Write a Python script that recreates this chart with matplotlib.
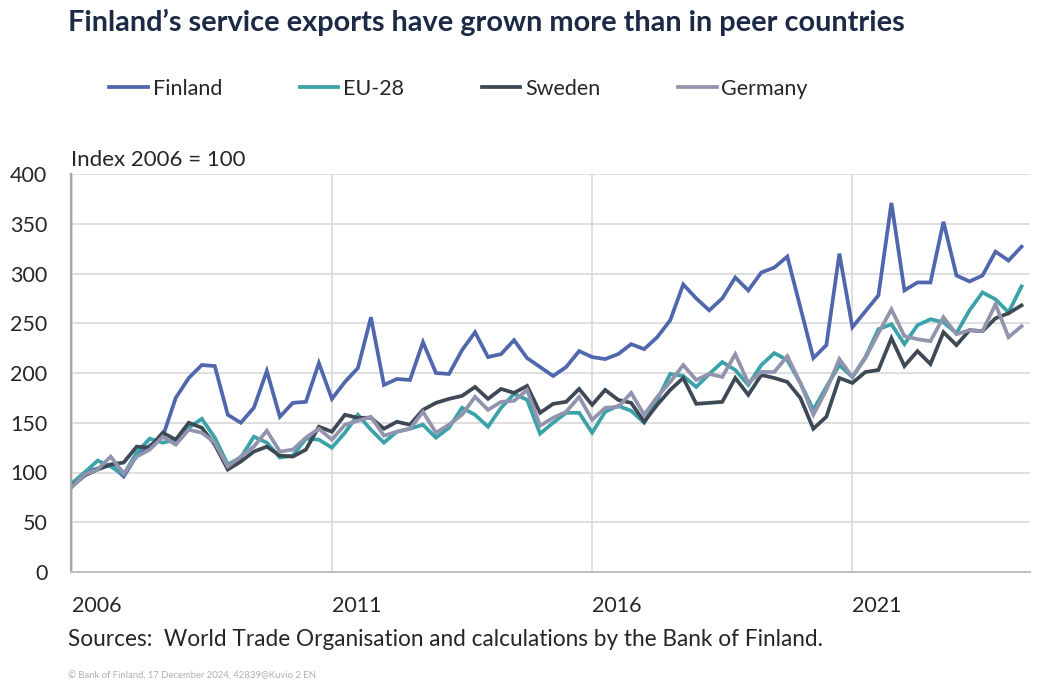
import numpy as np
import matplotlib.pyplot as plt
from matplotlib.lines import Line2D

# quarterly index 2006 = 100, 2006Q1 .. 2024Q2
finland = [88, 100, 104, 108, 96, 117, 127, 136, 175, 195, 208, 207, 158, 150, 165, 202,
           156, 170, 171, 210, 174, 191, 205, 256, 188, 194, 193, 231, 200, 199, 223, 241,
           216, 219, 233, 215, 206, 197, 206, 222, 216, 214, 219, 229, 224, 236, 253, 289,
           275, 263, 275, 296, 283, 301, 306, 317, 266, 215, 228, 320, 246, 262, 278, 371,
           283, 291, 291, 352, 298, 292, 298, 322, 313, 327]
eu28 = [89, 100, 112, 106, 98, 120, 134, 130, 133, 145, 154, 135, 108, 115, 136, 130,
        115, 117, 134, 133, 125, 140, 158, 143, 130, 141, 144, 148, 135, 145, 165, 158,
        146, 165, 179, 173, 139, 150, 160, 160, 140, 161, 167, 162, 150, 173, 199, 197,
        186, 199, 211, 203, 188, 208, 220, 213, 190, 163, 186, 208, 196, 216, 244, 249,
        229, 248, 254, 251, 240, 263, 281, 274, 261, 287]
sweden = [86, 97, 103, 108, 110, 126, 125, 140, 133, 150, 145, 128, 103, 111, 121, 126,
          117, 116, 123, 146, 141, 158, 155, 155, 144, 151, 148, 163, 170, 174, 177, 186,
          174, 184, 180, 187, 160, 169, 171, 184, 168, 183, 173, 170, 151, 168, 183, 195,
          169, 170, 171, 195, 178, 198, 195, 191, 175, 144, 156, 195, 190, 201, 203, 235,
          207, 222, 209, 241, 228, 243, 242, 255, 260, 268]
germany = [85, 98, 103, 116, 99, 116, 123, 136, 128, 143, 140, 130, 106, 116, 126, 142,
           121, 123, 135, 144, 133, 148, 152, 156, 137, 141, 144, 161, 140, 148, 158, 176,
           163, 171, 172, 183, 147, 155, 161, 176, 153, 165, 166, 180, 158, 176, 191, 208,
           193, 199, 196, 219, 190, 201, 201, 217, 190, 158, 183, 214, 196, 215, 240, 264,
           237, 234, 232, 256, 239, 243, 242, 269, 236, 247]
year_ticks = [0, 20, 40, 60]
year_labels = ['2006', '2011', '2016', '2021']
names = ['Finland', 'EU-28', 'Sweden', 'Germany']
colors = ['#5167ad', '#3aa2a8', '#3d4955', '#9294ad']

plt.rcParams['font.family'] = ['Lato', 'DejaVu Sans']
txt = '#262626'

fig = plt.figure(figsize=(10.44, 6.84), dpi=100)
W, H = 1044, 684
ax = fig.add_axes([71 / W, (H - 572) / H, (1030 - 71) / W, (572 - 174) / H])

x = np.arange(len(finland))
for series, name, c in zip([finland, eu28, sweden, germany], names, colors):
    ax.plot(x, series, color=c, lw=2.7, label=name, solid_joinstyle='miter')

ax.set_xlim(-0.05, 73.65)
ax.set_ylim(0, 400)
ax.set_yticks(np.arange(0, 401, 50))
ax.set_xticks(year_ticks)
ax.set_xticklabels(year_labels, ha='left')
ax.tick_params(length=0, labelsize=15.5, colors=txt)
ax.tick_params(axis='x', pad=17)
ax.tick_params(axis='y', pad=17)
ax.grid(True, color='#d9d9d9', lw=1.2)
ax.set_axisbelow(True)
for s in ['top', 'right']:
    ax.spines[s].set_visible(False)
ax.spines['left'].set_color('#a6a6a6')
ax.spines['left'].set_linewidth(1.6)
ax.spines['bottom'].set_color('#bfbfbf')
ax.spines['bottom'].set_linewidth(1.4)

fig.text(68 / W, 1 - 22 / H, 'Finland\u2019s service exports have grown more than in peer countries',
         fontsize=20.8, fontweight='bold', color='#1d2a45', va='center', ha='left')
fig.text(71 / W, 1 - 160 / H, 'Index 2006 = 100', fontsize=16, color=txt, va='center')
fig.text(68 / W, 1 - 640 / H, 'Sources:  World Trade Organisation and calculations by the Bank of Finland.',
         fontsize=16.3, color=txt, va='center')
fig.text(68 / W, 1 - 676 / H, '\u00a9 Bank of Finland, 17 December 2024, 42839@Kuvio 2 EN',
         fontsize=6.8, color='#b0b0b0', va='center')

handles = [Line2D([], [], color=c, lw=2.7) for c in colors]
fig.legend(handles, names, loc='center left', bbox_to_anchor=(90 / W, 1 - 89 / H), ncol=4,
           frameon=False, fontsize=15.5, handlelength=1.8, handletextpad=0.22,
           columnspacing=3.6, labelcolor=txt)

fig.savefig('out.png', dpi=100)
